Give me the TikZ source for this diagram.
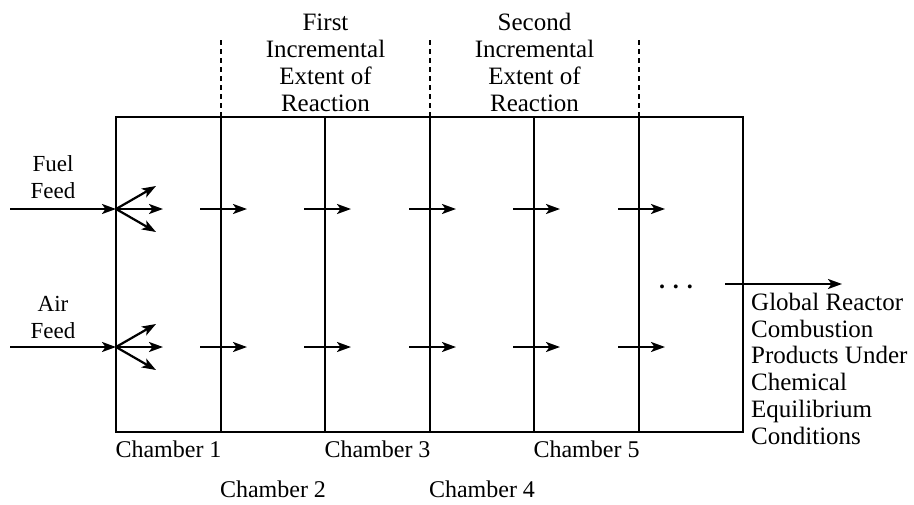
\documentclass[tikz,border=0pt]{standalone}
\usepackage{fontspec}
\setmainfont{Liberation Serif}
\usetikzlibrary{arrows.meta}
\begin{document}
\begin{tikzpicture}[x=1pt,y=-1pt,
  wall/.style={line width=2.2pt},
  flow/.style={line width=2.2pt,-{Stealth[length=14pt,width=10pt,inset=3.5pt]}},
  guide/.style={line width=1.6pt,dash pattern=on 5pt off 4pt},
  lbl/.style={font=\fontsize{24}{27}\selectfont,inner sep=0pt,anchor=base},
  mlbl/.style={font=\fontsize{25}{26.7}\selectfont,inner sep=0pt,align=center,anchor=base},
]
\useasboundingbox (0,0) rectangle (914,504);
% chamber walls
\foreach \i/\x in {0/116,1/221,2/325,3/430,4/534,5/639,6/743} {
  \coordinate (t\i) at (\x,117);
  \coordinate (b\i) at (\x,432);
  \coordinate (g\i) at (\x,40);
  \coordinate (fa\i) at (\x-21,209);
  \coordinate (fb\i) at (\x+26,209);
  \coordinate (aa\i) at (\x-21,347);
  \coordinate (ab\i) at (\x+26,347);
}
\draw[wall] (t0) rectangle (b6);
\foreach \i in {1,...,5} \draw[wall] (t\i) -- (b\i);
\foreach \i in {1,3,5} \draw[guide] (g\i) -- (t\i);
% inter-chamber flow arrows
\foreach \i in {1,...,5} {
  \draw[flow] (fa\i) -- (fb\i);
  \draw[flow] (aa\i) -- (ab\i);
}
% feeds
\coordinate (fuelin) at (10,209);
\coordinate (fuelhub) at (116,209);
\coordinate (fuelup) at (156,186);
\coordinate (fuelmid) at (163,209);
\coordinate (fueldn) at (156,232);
\coordinate (airin) at (10,347);
\coordinate (airhub) at (116,347);
\coordinate (airup) at (156,324);
\coordinate (airmid) at (163,347);
\coordinate (airdn) at (156,370);
\draw[flow] (fuelin) -- (fuelhub);
\draw[flow] (fuelhub) -- (fuelup);
\draw[flow] (fuelhub) -- (fuelmid);
\draw[flow] (fuelhub) -- (fueldn);
\draw[flow] (airin) -- (airhub);
\draw[flow] (airhub) -- (airup);
\draw[flow] (airhub) -- (airmid);
\draw[flow] (airhub) -- (airdn);
% output
\coordinate (outs) at (725,284);
\coordinate (oute) at (842,284);
\draw[flow] (outs) -- (oute);
\node[lbl,font=\bfseries\fontsize{24}{27}\selectfont] (dots) at (676,288) {.\,\,.\,\,.};
% labels
\node[mlbl,font=\fontsize{23}{27}\selectfont] (fuel) at (53,198) {Fuel\\Feed};
\node[mlbl,font=\fontsize{23}{27}\selectfont] (air) at (53,338) {Air\\Feed};
\node[mlbl] (first) at (325.5,111) {First\\Incremental\\Extent of\\Reaction};
\node[mlbl] (second) at (534.5,111) {Second\\Incremental\\Extent of\\Reaction};
\node[mlbl,align=left,anchor=base west] (global) at (751,444) {Global Reactor\\Combustion\\Products Under\\Chemical\\Equilibrium\\Conditions};
\node[lbl] (c1) at (168.5,457) {Chamber 1};
\node[lbl] (c2) at (273,497) {Chamber 2};
\node[lbl] (c3) at (377.5,457) {Chamber 3};
\node[lbl] (c4) at (482,497) {Chamber 4};
\node[lbl] (c5) at (586.5,457) {Chamber 5};
\end{tikzpicture}
\end{document}
